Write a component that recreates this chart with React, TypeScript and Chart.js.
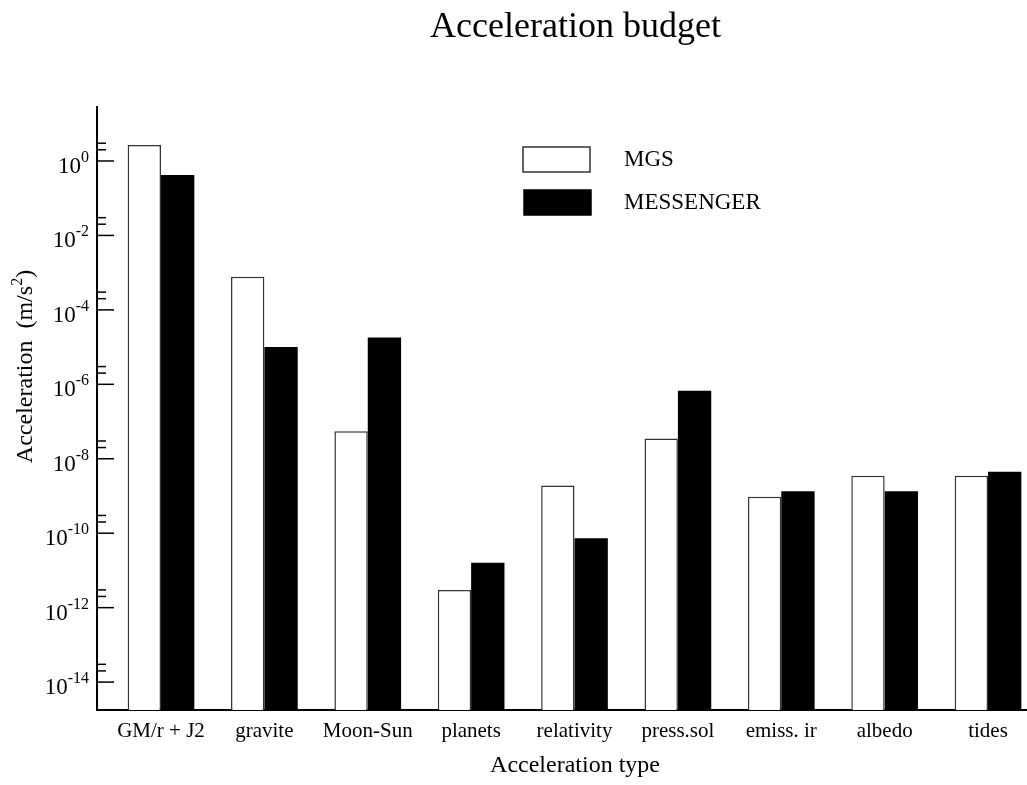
import { useEffect, useRef } from "react";
import { Chart, registerables } from "chart.js";

Chart.register(...registerables);

const categories = ["GM/r + J2", "gravite", "Moon-Sun", "planets", "relativity", "press.sol", "emiss. ir", "albedo", "tides"];
const mgsValues = [2.7, 7.8e-4, 5.5e-8, 3.0e-12, 1.9e-9, 3.5e-8, 9.5e-10, 3.5e-9, 3.5e-9];
const messengerValues = [0.42, 1.0e-5, 1.8e-5, 1.6e-11, 7.3e-11, 6.7e-7, 1.35e-9, 1.35e-9, 4.5e-9];
const seriesLabels = ["MGS", "MESSENGER"];
const yMajorExponents = [0, -2, -4, -6, -8, -10, -12, -14];
const yMinorFactors = [2, 3];
const yMin = 1.78e-15;
const yMax = 28.2;
const xMin = -0.619;
const xMax = 8.377;
const titleText = "Acceleration budget";
const xTitleText = "Acceleration type";
const yTitleMain = "Acceleration  (m/s";
const yTitleSup = "2";
const yTitleEnd = ")";

const SERIF = "'Liberation Serif', 'Times New Roman', Times, serif";

const decorPlugin = {
  id: "decor",
  afterDraw(chart: any) {
    const ctx = chart.ctx as CanvasRenderingContext2D;
    const ys = chart.scales.y;
    const area = chart.chartArea;
    ctx.save();
    ctx.strokeStyle = "#000";
    ctx.fillStyle = "#000";
    ctx.lineWidth = 1.5;
    const line = (x1: number, y1: number, x2: number, y2: number) => {
      ctx.beginPath();
      ctx.moveTo(x1, y1);
      ctx.lineTo(x2, y2);
      ctx.stroke();
    };
    // y ticks (inward) and labels
    yMajorExponents.forEach((e) => {
      const v = Math.pow(10, e);
      const py = ys.getPixelForValue(v);
      line(area.left, py, area.left + 17, py);
      yMinorFactors.forEach((f) => {
        const pm = ys.getPixelForValue(f * v);
        line(area.left, pm, area.left + 9, pm);
      });
      const sup = String(e);
      ctx.textAlign = "right";
      ctx.textBaseline = "alphabetic";
      ctx.font = `16px ${SERIF}`;
      const supW = ctx.measureText(sup).width;
      const rx = area.left - 8;
      ctx.fillText(sup, rx, py + 1);
      ctx.font = `23px ${SERIF}`;
      ctx.fillText("10", rx - supW, py + 12);
    });

    // main title
    ctx.textAlign = "center";
    ctx.textBaseline = "alphabetic";
    ctx.font = `36px ${SERIF}`;
    ctx.fillText(titleText, 575.5, 37);

    // x title
    ctx.font = `24px ${SERIF}`;
    ctx.fillText(xTitleText, 575, 772);

    // y title (rotated)
    ctx.save();
    ctx.translate(24, 366.5);
    ctx.rotate(-Math.PI / 2);
    ctx.textAlign = "left";
    ctx.font = `24px ${SERIF}`;
    const w1 = ctx.measureText(yTitleMain).width;
    const w3 = ctx.measureText(yTitleEnd).width;
    ctx.font = `16px ${SERIF}`;
    const w2 = ctx.measureText(yTitleSup).width;
    let x0 = -(w1 + w2 + w3) / 2;
    ctx.font = `24px ${SERIF}`;
    ctx.fillText(yTitleMain, x0, 8);
    x0 += w1;
    ctx.font = `16px ${SERIF}`;
    ctx.fillText(yTitleSup, x0, -2);
    x0 += w2;
    ctx.font = `24px ${SERIF}`;
    ctx.fillText(yTitleEnd, x0, 8);
    ctx.restore();

    // legend
    const boxes = [
      { x: 523, y: 147, w: 67, h: 25, ty: 160 },
      { x: 524, y: 190, w: 67, h: 25, ty: 203 },
    ];
    chart.data.datasets.forEach((ds: any, i: number) => {
      const b = boxes[i];
      ctx.fillStyle = ds.backgroundColor;
      ctx.fillRect(b.x, b.y, b.w, b.h);
      ctx.strokeStyle = ds.borderColor;
      ctx.lineWidth = 1.5;
      ctx.strokeRect(b.x, b.y, b.w, b.h);
      ctx.fillStyle = "#000";
      ctx.font = `23px ${SERIF}`;
      ctx.textAlign = "left";
      ctx.textBaseline = "middle";
      ctx.fillText(ds.label, 624, b.ty);
    });
    ctx.restore();
  },
};

export default function App() {
  const canvasRef = useRef<HTMLCanvasElement | null>(null);

  useEffect(() => {
    if (!canvasRef.current) return;
    const chart = new Chart(canvasRef.current, {
      type: "bar",
      data: {
        datasets: [
          {
            label: seriesLabels[0],
            data: mgsValues.map((v, i) => ({ x: i, y: v })),
            backgroundColor: "#ffffff",
            borderColor: "#333333",
            borderWidth: 1.5,
          },
          {
            label: seriesLabels[1],
            data: messengerValues.map((v, i) => ({ x: i, y: v })),
            backgroundColor: "#000000",
            borderColor: "#000000",
            borderWidth: 0,
          },
        ],
      },
      options: {
        animation: false,
        responsive: true,
        maintainAspectRatio: false,
        datasets: {
          bar: { categoryPercentage: 0.645, barPercentage: 1 },
        },
        layout: { padding: { top: 107, left: 0, right: 0, bottom: 0 } },
        plugins: {
          legend: { display: false },
          title: { display: false },
          tooltip: { enabled: false },
        },
        scales: {
          x: {
            type: "linear",
            offset: false,
            min: xMin,
            max: xMax,
            grid: { display: false, drawTicks: false, offset: false },
            border: { display: true, color: "#000", width: 2 },
            afterBuildTicks: (scale: any) => {
              scale.ticks = categories.map((_, i) => ({ value: i }));
            },
            afterFit: (scale: any) => {
              scale.height = 75;
            },
            ticks: {
              autoSkip: false,
              maxRotation: 0,
              padding: 9,
              color: "#000",
              font: { family: SERIF, size: 21 },
              callback: (value: any) => categories[value as number] ?? "",
            },
          },
          y: {
            type: "logarithmic",
            min: yMin,
            max: yMax,
            grid: { display: false, drawTicks: false },
            border: { display: true, color: "#000", width: 2 },
            ticks: { display: false },
            afterFit: (scale: any) => {
              scale.width = 97;
            },
          },
        },
      } as any,
      plugins: [decorPlugin],
    });
    return () => chart.destroy();
  }, []);

  return (
    <div style={{ position: "absolute", left: 0, top: 0, width: 1027, height: 785, background: "#fff" }}>
      <canvas ref={canvasRef} />
    </div>
  );
}
